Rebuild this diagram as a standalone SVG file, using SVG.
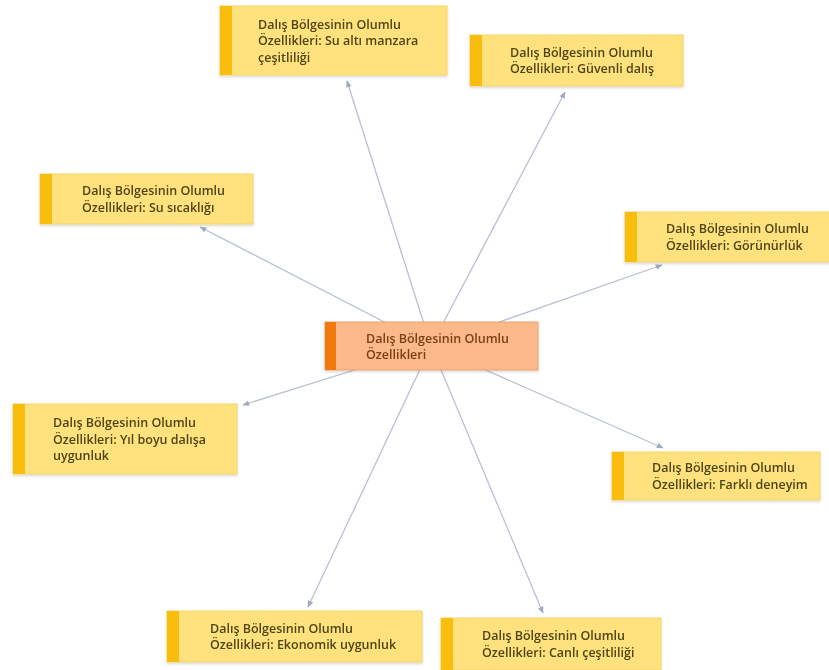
<svg xmlns="http://www.w3.org/2000/svg" width="829" height="670" viewBox="0 0 829 670">
<style>
.bg{fill:#ffffff}
.n rect.box{fill:#ffe27e;stroke:#f3d466;stroke-width:1}
.n rect.bar{fill:#f8bd0a}
.c rect.box{fill:#fbb98a;stroke:#eea070;stroke-width:1}
.c rect.bar{fill:#f2790f}
text{font-family:"Open Sans","Noto Sans","Liberation Sans",sans-serif;font-size:12.5px;font-weight:600;fill:#4e4518}
.c text{fill:#7a3f14}
.edges line{stroke:#b8c0d2;stroke-width:1.3;marker-end:url(#arr)}
</style>
<defs>
<marker id="arr" viewBox="0 0 10 10" refX="9" refY="5" markerWidth="7" markerHeight="7" orient="auto" markerUnits="userSpaceOnUse">
<path d="M0,1 L10,5 L0,9 Z" fill="#9ea8bf"/>
</marker>
<filter id="sh" x="-5%" y="-10%" width="110%" height="130%">
<feDropShadow dx="0" dy="1.5" stdDeviation="1.2" flood-color="#000" flood-opacity="0.15"/>
</filter>
</defs>
<rect class="bg" x="0" y="0" width="829" height="670"/>
<g id="connectors" class="edges">
<line x1="431" y1="346" x2="347" y2="81"/>
<line x1="431" y1="346" x2="565" y2="92"/>
<line x1="431" y1="346" x2="200" y2="227"/>
<line x1="431" y1="346" x2="662" y2="265"/>
<line x1="431" y1="346" x2="243" y2="405"/>
<line x1="431" y1="346" x2="663" y2="448"/>
<line x1="431" y1="346" x2="308" y2="607"/>
<line x1="431" y1="346" x2="543" y2="613"/>
</g>
<g id="center" class="c" filter="url(#sh)">
<rect class="box" x="325" y="322" width="213" height="48"/>
<rect class="bar" x="325" y="322" width="11" height="48"/>
<text x="366" y="342.5">Dalış Bölgesinin Olumlu</text>
<text x="366" y="359">Özellikleri</text>
</g>
<g id="node-manzara" class="n" filter="url(#sh)">
<rect class="box" x="220" y="6" width="227" height="69"/>
<rect class="bar" x="220" y="6" width="12" height="69"/>
<text x="258" y="28.5">Dalış Bölgesinin Olumlu</text>
<text x="258" y="45">Özellikleri: Su altı manzara</text>
<text x="258" y="61.5">çeşitliliği</text>
</g>
<g id="node-guvenli" class="n" filter="url(#sh)">
<rect class="box" x="470" y="35" width="213" height="51"/>
<rect class="bar" x="470" y="35" width="12" height="51"/>
<text x="510" y="56.5">Dalış Bölgesinin Olumlu</text>
<text x="510" y="73">Özellikleri: Güvenli dalış</text>
</g>
<g id="node-sicaklik" class="n" filter="url(#sh)">
<rect class="box" x="40" y="174" width="213" height="50"/>
<rect class="bar" x="40" y="174" width="12" height="50"/>
<text x="82" y="195">Dalış Bölgesinin Olumlu</text>
<text x="82" y="211.5">Özellikleri: Su sıcaklığı</text>
</g>
<g id="node-gorunurluk" class="n" filter="url(#sh)">
<rect class="box" x="625" y="212" width="210" height="50"/>
<rect class="bar" x="625" y="212" width="12" height="50"/>
<text x="666" y="233">Dalış Bölgesinin Olumlu</text>
<text x="666" y="249.5">Özellikleri: Görünürlük</text>
</g>
<g id="node-yilboyu" class="n" filter="url(#sh)">
<rect class="box" x="13" y="404" width="224" height="70"/>
<rect class="bar" x="13" y="404" width="12" height="70"/>
<text x="53" y="427">Dalış Bölgesinin Olumlu</text>
<text x="53" y="443.5">Özellikleri: Yıl boyu dalışa</text>
<text x="53" y="460">uygunluk</text>
</g>
<g id="node-farkli" class="n" filter="url(#sh)">
<rect class="box" x="612" y="452" width="208" height="48"/>
<rect class="bar" x="612" y="452" width="12" height="48"/>
<text x="652" y="472">Dalış Bölgesinin Olumlu</text>
<text x="652" y="488.5">Özellikleri: Farklı deneyim</text>
</g>
<g id="node-ekonomik" class="n" filter="url(#sh)">
<rect class="box" x="167" y="611" width="255" height="51"/>
<rect class="bar" x="167" y="611" width="12" height="51"/>
<text x="210" y="632.5">Dalış Bölgesinin Olumlu</text>
<text x="210" y="649">Özellikleri: Ekonomik uygunluk</text>
</g>
<g id="node-canli" class="n" filter="url(#sh)">
<rect class="box" x="441" y="618" width="220" height="52"/>
<rect class="bar" x="441" y="618" width="12" height="52"/>
<text x="482" y="640">Dalış Bölgesinin Olumlu</text>
<text x="482" y="656.5">Özellikleri: Canlı çeşitliliği</text>
</g>
</svg>
